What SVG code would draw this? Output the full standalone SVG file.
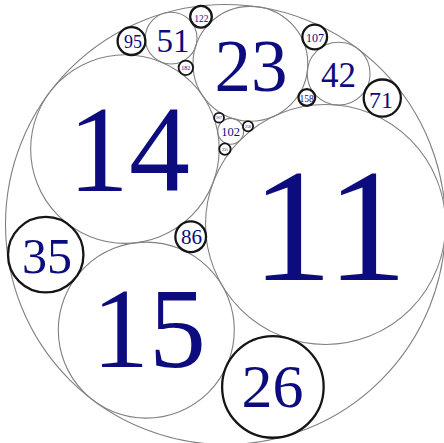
<svg xmlns="http://www.w3.org/2000/svg" width="444" height="443" viewBox="0 0 444 443">
<style>
.thin{fill:none;stroke:#808080;stroke-width:1.1}
.thick{fill:none;stroke:#151515;stroke-width:2.3}
.tiny{fill:none;stroke:#151515;stroke-width:1.8}
text{font-family:"Liberation Serif","Times New Roman",serif;fill:#0c0c7e;text-anchor:middle}
</style>
<rect width="444" height="443" fill="#ffffff"/>
<g id="connectors"/>
<g id="n-6"><circle class="thin" cx="225.5" cy="224.5" r="220"/></g>
<g id="n11"><circle class="thin" cx="325.5" cy="224.5" r="120"/><text x="329.5" y="279.5" font-size="162">11</text></g>
<g id="n14"><circle class="thin" cx="124.93" cy="149.07" r="94.28"/><text x="129" y="191" font-size="122">14</text></g>
<g id="n15"><circle class="thin" cx="146.3" cy="330.1" r="88"/><text x="149" y="367" font-size="114">15</text></g>
<g id="n23"><circle class="thin" cx="250.37" cy="63.81" r="57.39"/><text x="251" y="91" font-size="73">23</text></g>
<g id="n42"><circle class="thin" cx="338.64" cy="73.65" r="31.43"/><text x="338.5" y="87" font-size="35">42</text></g>
<g id="n51"><circle class="thin" cx="171.14" cy="38.15" r="25.88"/><text x="173" y="52" font-size="33">51</text></g>
<g id="n102"><circle class="thin" cx="230.68" cy="131.33" r="12.94"/><text x="230.5" y="136.3" font-size="12.5">102</text></g>
<g id="n26"><circle class="thick" cx="272.89" cy="386.96" r="50.77"/><text x="272.5" y="406.7" font-size="62">26</text></g>
<g id="n35"><circle class="thick" cx="45.73" cy="254.67" r="37.71"/><text x="47" y="273.3" font-size="50">35</text></g>
<g id="n86"><circle class="thick" cx="190.71" cy="236.78" r="15.35"/><text x="191.5" y="243.5" font-size="21">86</text></g>
<g id="n71"><circle class="thick" cx="382.28" cy="98.08" r="18.59"/><text x="381" y="108.3" font-size="24">71</text></g>
<g id="n107"><circle class="thick" cx="314.73" cy="36.99" r="12.34"/><text x="315" y="41.7" font-size="12">107</text></g>
<g id="n158"><circle class="thick" cx="306.82" cy="97.52" r="8.35"/><text x="306.5" y="102.2" font-size="9.5">158</text></g>
<g id="n95"><circle class="thick" cx="131.48" cy="41.09" r="13.89"/><text x="133" y="47.7" font-size="18">95</text></g>
<g id="n122"><circle class="thick" cx="200.98" cy="16.77" r="10.82"/><text x="201.3" y="21.8" font-size="9.5">122</text></g>
<g id="n182"><circle class="tiny" cx="185.84" cy="67.85" r="7.25"/><text x="185.8" y="70" font-size="6">182</text></g>
<g id="n267"><circle class="tiny" cx="219.07" cy="117.72" r="4.94"/><text x="219.07" y="119.1" font-size="4">267</text></g>
<g id="n258"><circle class="tiny" cx="248.01" cy="126.27" r="5.12"/><text x="248.01" y="127.7" font-size="4">258</text></g>
<g id="n231"><circle class="tiny" cx="224.93" cy="149.07" r="5.71"/><text x="224.93" y="150.5" font-size="4">231</text></g>
</svg>
